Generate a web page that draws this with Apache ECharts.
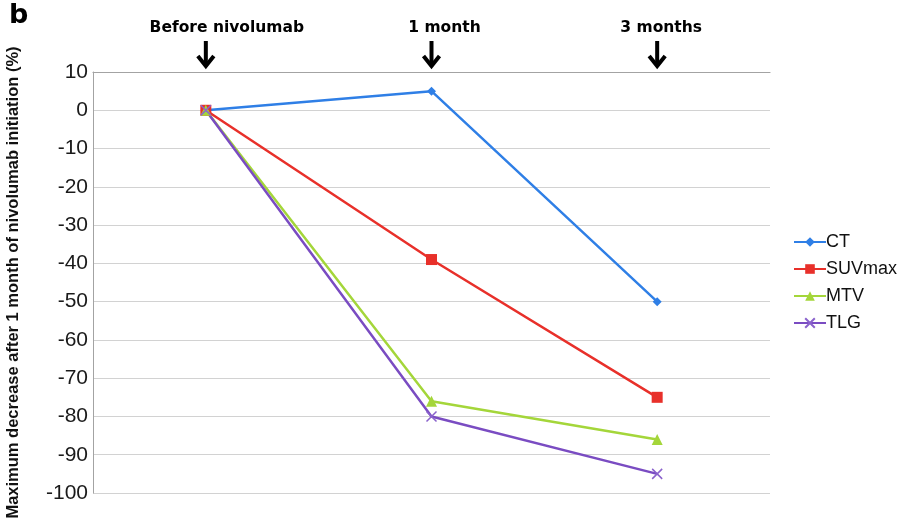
<!DOCTYPE html>
<html>
<head>
<meta charset="utf-8">
<script src="https://cdn.jsdelivr.net/npm/echarts@6/dist/echarts.min.js"></script>
<style>
  html, body { margin: 0; padding: 0; background: #fff; }
  #chart { width: 901px; height: 519px; }
</style>
</head>
<body>
<div id="chart"></div>
<script>
// Time points after nivolumab start
const timepoints = ['Before nivolumab', '1 month', '3 months'];

// Percentage change for each imaging parameter
const ctValues = [0, 5, -50];
const suvmaxValues = [0, -39, -75];
const mtvValues = [0, -76, -86];
const tlgValues = [0, -80, -95];

const yTicks = { min: -100, max: 10, step: 10 };

const FONT = '"Liberation Sans", Arial, Helvetica, sans-serif';
const WIDE_BOLD = '"DejaVu Sans", "Liberation Sans", sans-serif';
const crossSymbol = 'path://M0,0 L10,10 M10,0 L0,10';

const chart = echarts.init(document.getElementById('chart'), null, { renderer: 'canvas' });

function lineSeries(name, data, color, symbol, symbolSize, extra) {
  return Object.assign({
    name: name,
    type: 'line',
    data: data,
    symbol: symbol,
    symbolSize: symbolSize,
    showSymbol: true,
    lineStyle: { color: color, width: 2.5 },
    itemStyle: { color: color, borderWidth: 0 },
    emphasis: { disabled: true },
    animation: false
  }, extra || {});
}

chart.setOption({
  backgroundColor: '#ffffff',
  grid: { left: 93, right: 131, top: 72, bottom: 26, outerBoundsMode: 'none', containLabel: false },
  legend: {
    orient: 'vertical',
    left: 788,
    top: 228,
    itemGap: 9,
    itemWidth: 32,
    itemHeight: 12,
    textStyle: { fontFamily: FONT, fontSize: 18, color: '#111', padding: [0, 0, 0, -5] },
    data: ['CT', 'SUVmax', 'MTV', 'TLG']
  },
  xAxis: {
    type: 'category',
    position: 'top',
    data: timepoints,
    boundaryGap: true,
    axisLine: { show: true, onZero: false, lineStyle: { color: '#a3a3a3', width: 1.2 } },
    axisTick: { show: false },
    splitLine: { show: false },
    axisLabel: { show: false }
  },
  yAxis: {
    type: 'value',
    min: yTicks.min,
    max: yTicks.max,
    interval: yTicks.step,
    name: 'Maximum decrease after 1 month of nivolumab initiation (%)',
    nameLocation: 'middle',
    nameGap: 71,
    nameTextStyle: { fontFamily: FONT, fontSize: 16.5, fontWeight: 'bold', color: '#111' },
    axisLine: { show: true, lineStyle: { color: '#a3a3a3', width: 1 } },
    axisTick: { show: false },
    splitLine: { show: true, lineStyle: { color: '#d2d2d2', width: 1.2 } },
    axisLabel: { fontFamily: FONT, fontSize: 21, color: '#1a1a1a', margin: 5 }
  },
  series: [
    lineSeries('CT', ctValues, '#2f7fe6', 'diamond', 9),
    lineSeries('SUVmax', suvmaxValues, '#e8302a', 'rect', 11),
    lineSeries('MTV', mtvValues, '#a4d63a', 'triangle', 11),
    lineSeries('TLG', tlgValues, '#7a4cc2', crossSymbol, 10, {
      itemStyle: { color: 'none', borderColor: '#8a62cc', borderWidth: 1.5 }
    })
  ]
});

// Header captions and down arrows above each time point, placed on the category scale
const headerOffsets = [21, 13, 4];
const graphics = [
  { type: 'text', left: 9, top: 2, style: { text: 'b', fontFamily: WIDE_BOLD, fontSize: 27, fontWeight: 'bold', fill: '#000' } }
];
timepoints.forEach(function (tp, i) {
  const x = chart.convertToPixel({ xAxisIndex: 0 }, tp);
  graphics.push({
    type: 'text',
    x: x + headerOffsets[i],
    y: 28,
    style: {
      text: tp, fontFamily: WIDE_BOLD, fontSize: 15.5, fontWeight: 'bold', fill: '#000',
      align: 'center', verticalAlign: 'middle'
    }
  });
  graphics.push({
    type: 'group',
    x: x,
    y: 0,
    children: [
      { type: 'line', shape: { x1: 0, y1: 41, x2: 0, y2: 64 }, style: { stroke: '#000', lineWidth: 4 } },
      { type: 'polyline', shape: { points: [[-8, 56], [0, 66], [8, 56]] }, style: { stroke: '#000', lineWidth: 4, fill: 'none', lineJoin: 'miter' } }
    ]
  });
});
chart.setOption({ graphic: graphics });
</script>
</body>
</html>
